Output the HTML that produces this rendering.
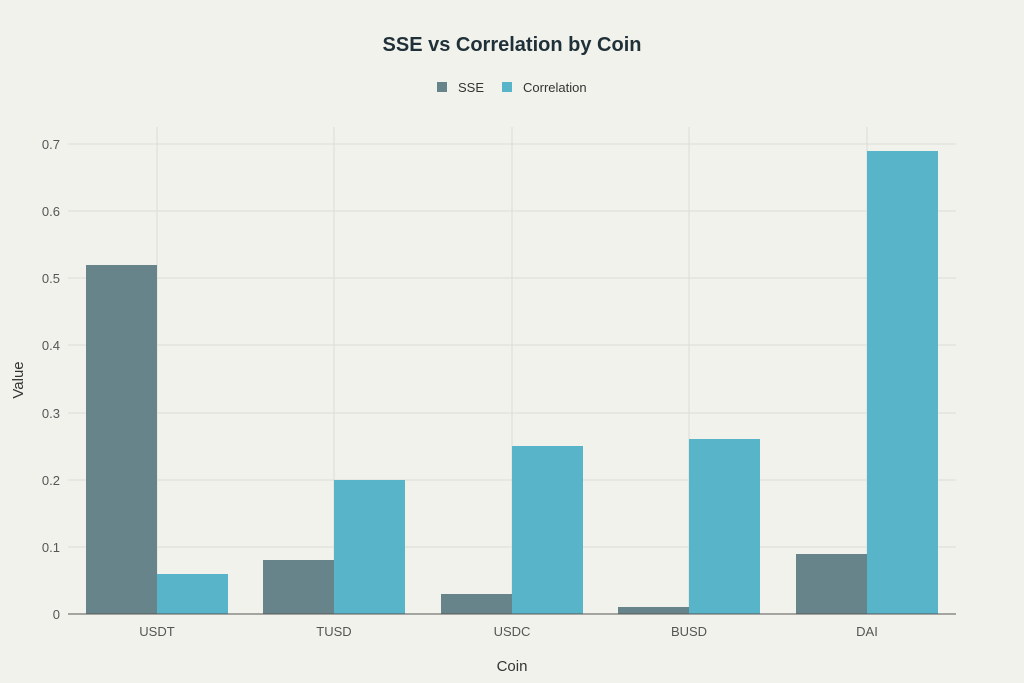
<!DOCTYPE html>
<html><head><style>
body{margin:0;background:#f2f2ed;}
svg{display:block;font-family:"Liberation Sans",sans-serif;}
</style></head><body>
<svg width="1024" height="683" viewBox="0 0 1024 683">
<rect width="1024" height="683" fill="#f2f2ed"/>
<text x="512" y="51" text-anchor="middle" font-size="20" font-weight="bold" fill="#1f3038">SSE vs Correlation by Coin</text>
<rect x="437" y="82" width="10" height="10" fill="#66848a"/>
<text x="458" y="92" font-size="13" fill="#333">SSE</text>
<rect x="502" y="82" width="10" height="10" fill="#57b4c9"/>
<text x="523" y="92" font-size="13" fill="#333">Correlation</text>
<g stroke="#dcdcd6" stroke-width="1">
<line x1="68" y1="144" x2="956" y2="144"/>
<line x1="68" y1="211" x2="956" y2="211"/>
<line x1="68" y1="278" x2="956" y2="278"/>
<line x1="68" y1="345" x2="956" y2="345"/>
<line x1="68" y1="413" x2="956" y2="413"/>
<line x1="68" y1="480" x2="956" y2="480"/>
<line x1="68" y1="547" x2="956" y2="547"/>
<line x1="157" y1="127" x2="157" y2="614"/>
<line x1="334" y1="127" x2="334" y2="614"/>
<line x1="512" y1="127" x2="512" y2="614"/>
<line x1="689" y1="127" x2="689" y2="614"/>
<line x1="867" y1="127" x2="867" y2="614"/>
</g>
<g fill="#66848a">
<rect x="86" y="265" width="71" height="349"/>
<rect x="263" y="560" width="71" height="54"/>
<rect x="441" y="594" width="71" height="20"/>
<rect x="618" y="607" width="71" height="7"/>
<rect x="796" y="554" width="71" height="60"/>
</g>
<g fill="#57b4c9">
<rect x="157" y="574" width="71" height="40"/>
<rect x="334" y="480" width="71" height="134"/>
<rect x="512" y="446" width="71" height="168"/>
<rect x="689" y="439" width="71" height="175"/>
<rect x="867" y="151" width="71" height="463"/>
</g>
<line x1="68" y1="614" x2="956" y2="614" stroke="#555" stroke-width="1"/>
<g font-size="13" fill="#555" text-anchor="end">
<text x="60" y="149">0.7</text><text x="60" y="216">0.6</text><text x="60" y="283">0.5</text>
<text x="60" y="350">0.4</text><text x="60" y="418">0.3</text><text x="60" y="485">0.2</text>
<text x="60" y="552">0.1</text><text x="60" y="619">0</text>
</g>
<g font-size="13" fill="#555" text-anchor="middle">
<text x="157" y="636">USDT</text><text x="334" y="636">TUSD</text><text x="512" y="636">USDC</text>
<text x="689" y="636">BUSD</text><text x="867" y="636">DAI</text>
</g>
<text x="512" y="671" text-anchor="middle" font-size="15" fill="#333">Coin</text>
<text transform="translate(23,380) rotate(-90)" text-anchor="middle" font-size="15" fill="#333">Value</text>
</svg>
</body></html>
